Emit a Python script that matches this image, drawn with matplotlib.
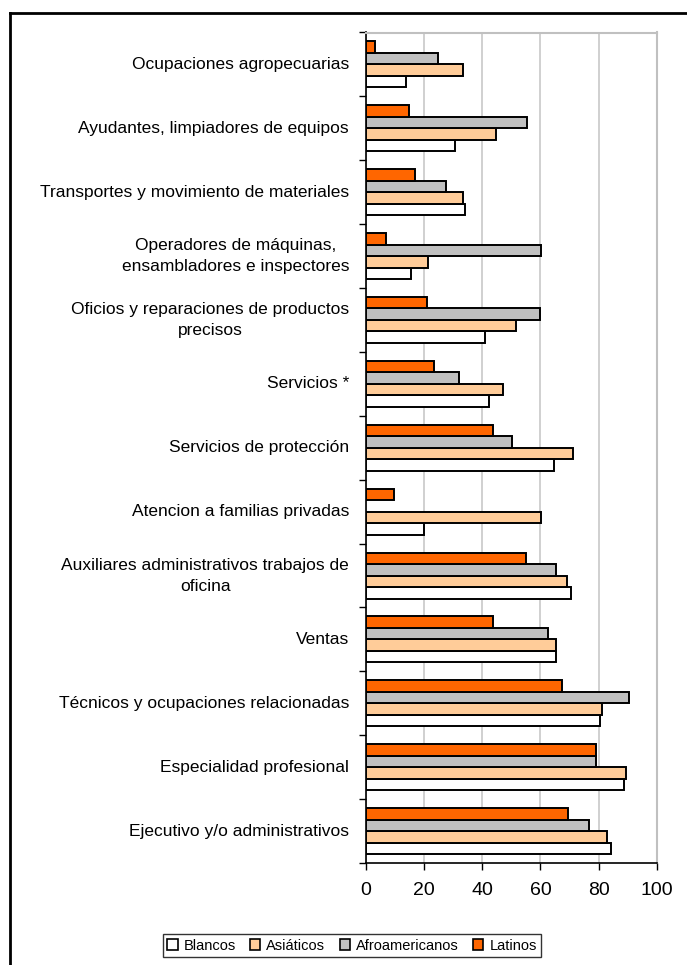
import matplotlib
matplotlib.use("Agg")
import matplotlib.pyplot as plt
from matplotlib.patches import Patch
from matplotlib.lines import Line2D
import numpy as np

plt.rcParams['font.family'] = ['Liberation Sans', 'DejaVu Sans']

# categories from bottom to top
categories = [
    "Ejecutivo y/o administrativos",
    "Especialidad profesional",
    "Técnicos y ocupaciones relacionadas",
    "Ventas",
    "Auxiliares administrativos trabajos de\noficina",
    "Atencion a familias privadas",
    "Servicios de protección",
    "Servicios *",
    "Oficios y reparaciones de productos\nprecisos",
    "Operadores de máquinas,\nensambladores e inspectores",
    "Transportes y movimiento de materiales",
    "Ayudantes, limpiadores de equipos",
    "Ocupaciones agropecuarias",
]

blancos = [84.2, 88.8, 80.5, 65.3, 70.5, 20.1, 64.7, 42.4, 41.1, 15.7, 34.1, 30.7, 13.7]
asiaticos = [83.0, 89.5, 81.0, 65.3, 69.1, 60.1, 71.2, 47.0, 51.7, 21.5, 33.3, 44.6, 33.3]
afroamericanos = [76.5, 79.0, 90.3, 62.7, 65.4, 0, 50.3, 32.0, 59.9, 60.1, 27.4, 55.5, 24.8]
latinos = [69.3, 79.0, 67.3, 43.8, 54.9, 9.7, 43.8, 23.4, 20.9, 7.1, 16.9, 15.0, 3.2]

series_names = ["Blancos", "Asiáticos", "Afroamericanos", "Latinos"]
series_vals = [blancos, asiaticos, afroamericanos, latinos]
colors = ["#FFFFFF", "#FFCC99", "#C0C0C0", "#FF6600"]

fig = plt.figure(figsize=(6.87, 9.65), dpi=100)
ax = fig.add_axes([365.7 / 687, 1 - 863 / 965, (657 - 365.7) / 687, (863 - 32.5) / 965])

y = np.arange(len(categories))
h = 0.18
offsets = [-1.5 * h, -0.5 * h, 0.5 * h, 1.5 * h]
for vals, c, off, name in zip(series_vals, colors, offsets, series_names):
    v = np.array(vals, dtype=float)
    mask = v > 0
    ax.barh(y[mask] + off, v[mask], height=h, color=c, edgecolor="black",
            linewidth=1.4, label=name, zorder=3)

ax.set_xlim(0, 100)
ax.set_ylim(-0.5, len(categories) - 0.5)
ax.set_xticks(np.arange(0, 101, 20))
ax.xaxis.grid(True, color="#C8C8C8", linewidth=1.2, zorder=0)
ax.tick_params(axis="x", labelsize=14, direction="out", length=5, width=1, pad=9)

# category boundaries as ticks, labels at centers
ax.set_yticks(np.arange(-0.5, len(categories), 1.0))
ax.set_yticklabels([])
ax.tick_params(axis="y", direction="out", length=5, width=1)
for yi, lab in zip(y, categories):
    ax.text(-5.7, yi, lab, ha="right", va="center", multialignment="center",
            fontsize=12.5, linespacing=1.5, transform=ax.transData)

for s in ["top", "right"]:
    ax.spines[s].set_color("#C0C0C0")
    ax.spines[s].set_linewidth(1.5)
for s in ["left", "bottom"]:
    ax.spines[s].set_color("black")
    ax.spines[s].set_linewidth(1.2)

handles = [Patch(facecolor=c, edgecolor="black", linewidth=1.2) for c in colors]
leg = fig.legend(handles, series_names, loc="center", ncol=4,
                 bbox_to_anchor=(352 / 687, 1 - 945.5 / 965), fontsize=10.5,
                 frameon=True, fancybox=False, edgecolor="black",
                 handlelength=0.7, handleheight=0.7, handletextpad=0.4,
                 columnspacing=1.0, borderpad=0.3, borderaxespad=0)
leg.get_frame().set_linewidth(1.0)

# outer chart border (top and left only visible)
fig.add_artist(Line2D([10 / 687, 1], [1 - 13 / 965, 1 - 13 / 965], color="black", linewidth=2,
                      transform=fig.transFigure))
fig.add_artist(Line2D([10 / 687, 10 / 687], [0, 1 - 13 / 965], color="black", linewidth=2,
                      transform=fig.transFigure))

fig.savefig("out.png", dpi=100)
